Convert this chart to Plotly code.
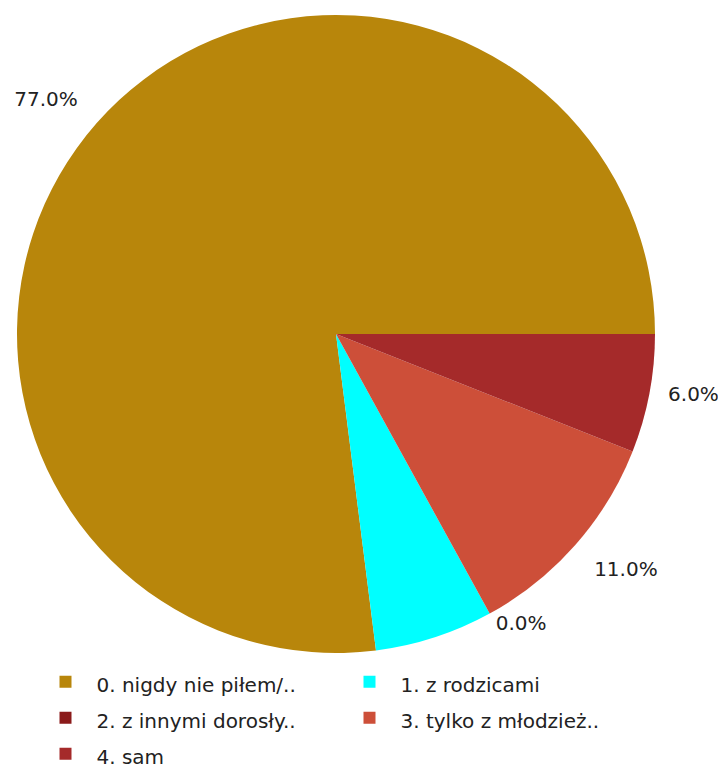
import plotly.graph_objects as go

categories = ["0. nigdy nie piłem/..", "1. z rodzicami", "2. z innymi dorosły..",
              "3. tylko z młodzież..", "4. sam"]
values = [77.0, 6.0, 0.0, 11.0, 6.0]
slice_labels = ["77.0%", "", "0.0%", "11.0%", "6.0%"]
colors = ["#B8860B", "#00FFFF", "#8B1A1A", "#CD4F39", "#A52A2A"]

# first slice begins at 3 o'clock and runs counterclockwise
rotation = 90 - 360 * values[0] / sum(values)

NB = "\u00a0"
# invisible padding to push outside labels a bit further from the rim
pad_before = ["", "", "", NB + "<br>" + NB, NB * 2]
pad_after = [NB + "<br>" + NB, "", "", "", ""]
shown_text = [b + t + a if t else "" for b, t, a in zip(pad_before, slice_labels, pad_after)]

legend_labels = ['<span style="font-size:20px">%s</span>' % c for c in categories]

fig = go.Figure(go.Pie(
    labels=legend_labels,
    values=values,
    customdata=shown_text,
    texttemplate="%{customdata}",
    textposition="outside",
    textfont=dict(family="DejaVu Sans", size=20, color="#222222"),
    marker=dict(colors=colors, line=dict(width=0)),
    sort=False,
    direction="counterclockwise",
    rotation=rotation,
    domain=dict(x=[9/726, 647/726], y=[(772-645)/772, (772-7)/772]),
    showlegend=True,
    hoverinfo="skip",
))

fig.update_layout(
    width=726, height=772,
    margin=dict(l=0, r=0, t=0, b=0, autoexpand=False),
    paper_bgcolor="white",
    font=dict(family="DejaVu Sans", size=20, color="#222222"),
    legend=dict(orientation="h", x=0.0365, y=0.157, xanchor="left", yanchor="top",
                entrywidth=237, entrywidthmode="pixels", itemwidth=52,
                font=dict(size=25.4, color="#222222"),
                traceorder="normal"),
)

fig.write_html("out.html")
